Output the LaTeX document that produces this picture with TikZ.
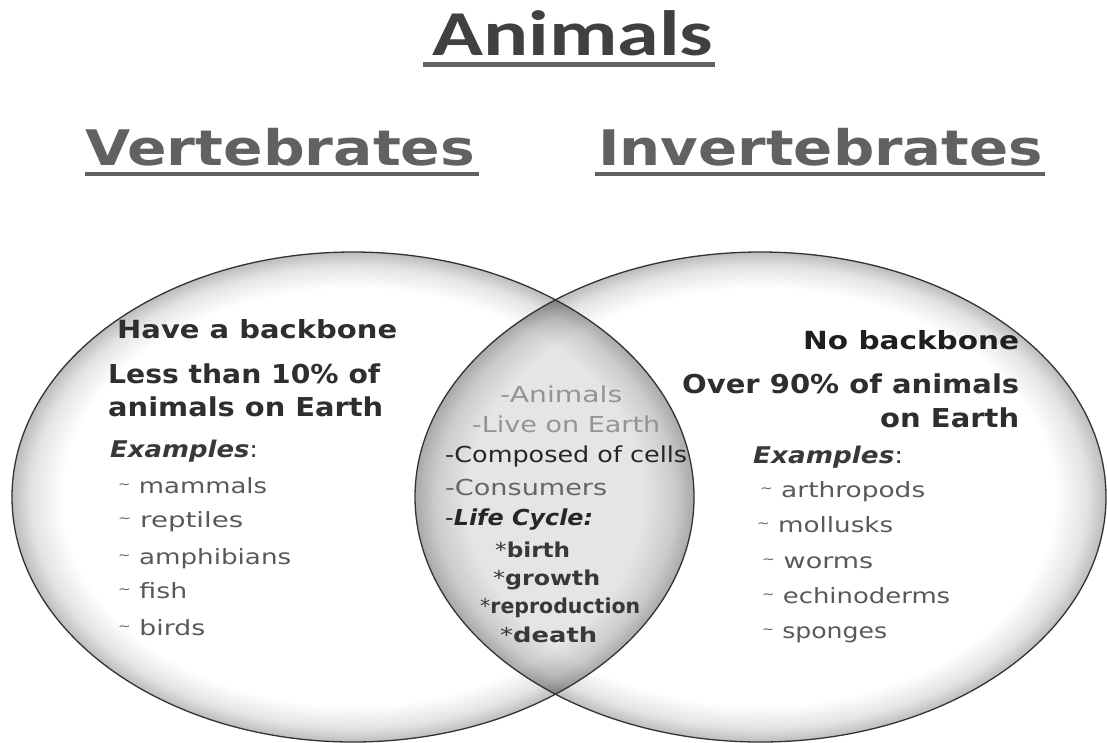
\documentclass[tikz,border=0pt]{standalone}
\usepackage{fontspec}
\usepackage{graphicx}
\setmainfont{DejaVu Sans}
\newfontfamily\carl{Carlito}
\newlength\fitlen
\newcommand\fitw[2]{\settowidth\fitlen{#2}\pgfmathsetmacro\fitfac{#1/\fitlen}\scalebox{\fitfac}[1]{#2}}
\newcommand\tild{\raisebox{5pt}{\fontsize{12}{12}\selectfont\textasciitilde}}
\pgfdeclareradialshading{rimshade}{\pgfpoint{0bp}{0bp}}{color(0bp)=(white); color(21.3bp)=(white); color(23.6bp)=(gray!22); color(25bp)=(gray!52); color(50bp)=(gray!52)}
\begin{document}
\begin{tikzpicture}[x=1pt,y=-1pt,
  txt/.style={anchor=base west, inner sep=0pt},
  title/.style={txt, font=\carl\fontsize{64}{64}\selectfont\bfseries, text=black!75},
  sub/.style={txt, font=\fontsize{49}{49}\selectfont\bfseries, text=black!62},
  head/.style={txt, font=\fontsize{25}{25}\selectfont\bfseries, text=black!82},
  exh/.style={txt, font=\fontsize{23}{23}\selectfont\bfseries\itshape, text=black!78},
  item/.style={txt, font=\fontsize{21}{21}\selectfont, text=black!65},
  mid/.style={txt, font=\fontsize{22}{22}\selectfont},
  midb/.style={txt, font=\fontsize{20.5}{20.5}\selectfont\bfseries, text=black!78},
  uline/.style={draw=black!62},
  edge/.style={draw=black!80, line width=1.3pt}]
\useasboundingbox (0,0) rectangle (1107,742);
\fill[white] (0,0) rectangle (1107,742);

% circles
\coordinate (L) at (353,497);
\coordinate (R) at (760.5,497);
\shade[shading=rimshade] (L) ellipse [x radius=341pt, y radius=245pt];
\begin{scope}[blend mode=multiply]
  \shade[shading=rimshade] (R) ellipse [x radius=345.5pt, y radius=245pt];
  \begin{scope}
    \clip (L) ellipse [x radius=341pt, y radius=245pt];
    \fill[gray!20] (R) ellipse [x radius=345.5pt, y radius=245pt];
  \end{scope}
\end{scope}
\draw[edge] (L) ellipse [x radius=341pt, y radius=245pt];
\draw[edge] (R) ellipse [x radius=345.5pt, y radius=245pt];

% titles
\node[title] (an) at (432,55) {\fitw{281}{Animals}};
\draw[uline, line width=4.5pt] ([xshift=-9pt,yshift=-9.5pt]an.base west) -- ([xshift=2pt,yshift=-9.5pt]an.base east);
\node[sub] (vt) at (85,165) {\fitw{390}{Vertebrates}};
\draw[uline, line width=3.5pt] ([yshift=-9pt]vt.base west) -- ([xshift=4pt,yshift=-9pt]vt.base east);
\node[sub] (iv) at (598,165) {\fitw{445}{Invertebrates}};
\draw[uline, line width=3.5pt] ([xshift=-3pt,yshift=-9pt]iv.base west) -- ([xshift=2pt,yshift=-9pt]iv.base east);

% left
\node[head] (hb) at (117,338) {\fitw{280}{Have a backbone}};
\node[head, font=\fontsize{26}{26}\selectfont\bfseries] (l1) at (108,383) {\fitw{272}{Less than 10\% of}};
\node[head, font=\fontsize{26}{26}\selectfont\bfseries] (l2) at (108,416) {\fitw{275}{animals on Earth}};
\node[exh] (ex1) at (110,457) {\fitw{148}{Examples{\normalfont:}}};
\node[item] (m1) at (118,493) {\fitw{149}{\tild\ mammals}};
\node[item] (m2) at (118,527) {\fitw{125}{\tild\ reptiles}};
\node[item] (m3) at (118,564) {\fitw{173}{\tild\ amphibians}};
\node[item] (m4) at (118,598) {\fitw{69}{\tild\ fish}};
\node[item] (m5) at (118,635) {\fitw{87}{\tild\ birds}};

% middle
\node[mid, text=black!42] (c1) at (500,402) {\fitw{122}{-Animals}};
\node[mid, text=black!42] (c2) at (472,432) {\fitw{188}{-Live on Earth}};
\node[mid, text=black!85] (c3) at (445,462) {\fitw{242}{-Composed of cells}};
\node[mid, text=black!60] (c4) at (445,495) {\fitw{162}{-Consumers}};
\node[midb, font=\fontsize{22}{22}\selectfont\bfseries\itshape, text=black!85] (c5) at (445,525) {\fitw{148}{{\normalfont-}Life Cycle:}};
\node[midb] (b1) at (495,557) {\fitw{75}{{\normalfont*}birth}};
\node[midb] (b2) at (493,585) {\fitw{107}{{\normalfont*}growth}};
\node[midb] (b3) at (480,613) {\fitw{160}{{\normalfont*}reproduction}};
\node[midb] (b4) at (500,642) {\fitw{97}{{\normalfont*}death}};

% right
\node[head, text=black!88] (nb) at (803,349) {\fitw{216}{No backbone}};
\node[head, font=\fontsize{26}{26}\selectfont\bfseries] (o1) at (682,393) {\fitw{337}{Over 90\% of animals}};
\node[head, font=\fontsize{26}{26}\selectfont\bfseries] (o2) at (880,427) {\fitw{139}{on Earth}};
\node[exh] (ex2) at (753,463) {\fitw{150}{Examples{\normalfont:}}};
\node[item] (r1) at (760,497) {\fitw{165}{\tild\ arthropods}};
\node[item] (r2) at (757,532) {\fitw{136}{\tild\ mollusks}};
\node[item] (r3) at (762,568) {\fitw{111}{\tild\ worms}};
\node[item] (r4) at (762,603) {\fitw{188}{\tild\ echinoderms}};
\node[item] (r5) at (762,638) {\fitw{125}{\tild\ sponges}};
\end{tikzpicture}
\end{document}
